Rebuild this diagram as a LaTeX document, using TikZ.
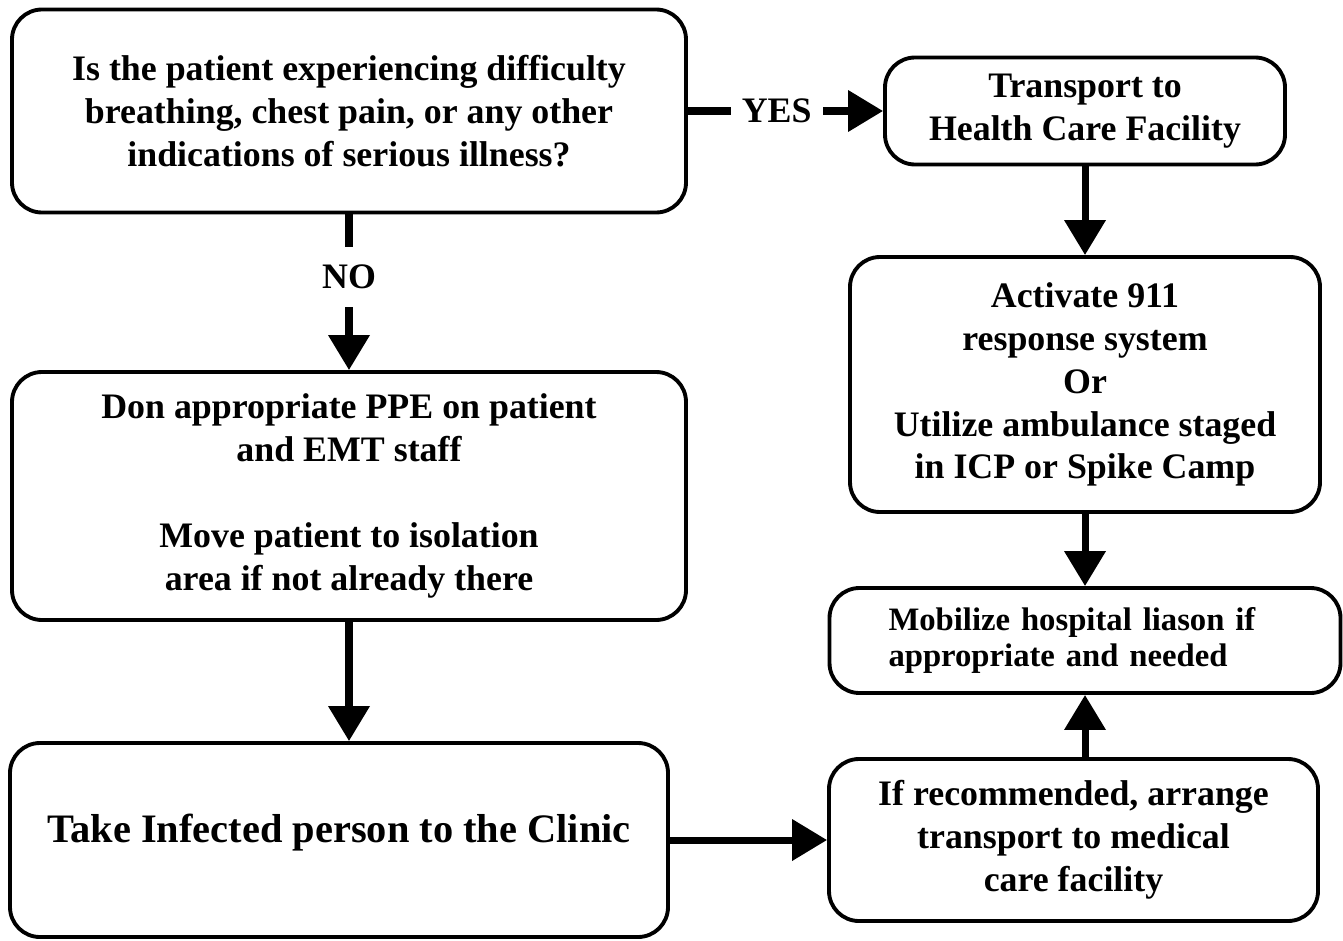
\documentclass[tikz,border=0pt]{standalone}
\usepackage{fontspec}
\setmainfont{Liberation Serif}
\usetikzlibrary{arrows.meta}

\begin{document}
\begin{tikzpicture}[
  box/.style={draw=black,line width=1.1pt,rounded corners=0.3cm,align=center,inner sep=0pt,
    font=\fontsize{10.2}{12.2}\selectfont\bfseries},
  arr/.style={line width=2pt,-{Triangle[length=0.35cm,width=0.4cm]}},
  lbl/.style={fill=white,inner xsep=0.11cm,inner ysep=0.18cm,
    font=\fontsize{10.2}{12.2}\selectfont\bfseries}
]
\useasboundingbox (0,0) rectangle (13.43,9.40);
\node[box,minimum width=6.74cm,minimum height=2.03cm] (1) at (3.49,8.29) {Is the patient experiencing difficulty\\breathing, chest pain, or any other\\indications of serious illness?};
\node[box,minimum width=4.00cm,minimum height=1.07cm] (2) at (10.85,8.29) {Transport to\\Health Care Facility};
\node[box,minimum width=4.70cm,minimum height=2.55cm] (3) at (10.85,5.555) {Activate 911\\response system\\Or\\Utilize ambulance staged\\in ICP or Spike Camp};
\node[box,align=left,text width=3.93cm,inner xsep=0.59cm,minimum height=1.05cm,
  font=\fontsize{9.3}{10.5}\selectfont\bfseries] (4) at (10.85,2.995) {Mobilize hospital liason if\\appropriate and needed};
\node[box,minimum width=4.89cm,minimum height=1.62cm] (5) at (10.735,1.00) {If recommended, arrange\\transport to medical\\care facility};
\node[box,minimum width=6.74cm,minimum height=2.48cm] (6) at (3.49,4.44) {Don appropriate PPE on patient\\and EMT staff\\[12.2pt]Move patient to isolation\\area if not already there};
\node[box,minimum width=6.58cm,minimum height=1.94cm,text depth=0.24cm,
  font=\fontsize{11.5}{13}\selectfont\bfseries] (7) at (3.39,1.00) {Take Infected person to the Clinic};
\path [arr] (1) edge node[lbl,pos=0.455] {YES} (2);
\path [arr] (1) edge node[lbl,pos=0.4] {NO} (6);
\path [arr] (2) edge (3);
\path [arr] (3) edge (4);
\path [arr] (5.north -| 4.south) edge (4.south);
\path [arr] (6.south) edge (6.south |- 7.north);
\path [arr] (7) edge (5);
\end{tikzpicture}
\end{document}
